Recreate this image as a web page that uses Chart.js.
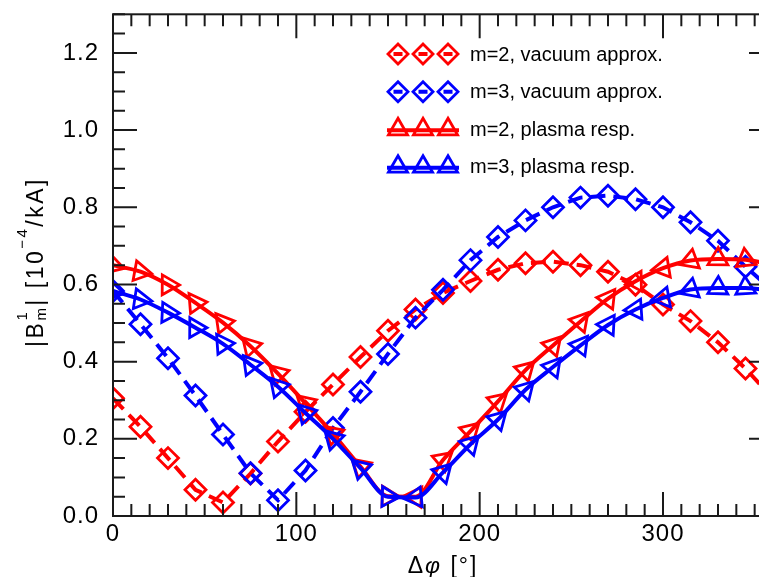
<!DOCTYPE html>
<html>
<head>
<meta charset="utf-8">
<script src="https://cdn.jsdelivr.net/npm/chart.js@4.4.1/dist/chart.umd.min.js"></script>
<style>
  html, body { margin: 0; padding: 0; background: #fff; overflow: hidden; }
  #wrap { width: 790px; height: 577px; }
</style>
</head>
<body>
<div id="wrap"><canvas id="bmChart" width="790" height="577"></canvas></div>
<script>
// 相位差 Δφ (度)
const dphi = [0, 15, 30, 45, 60, 75, 90, 105, 120, 135, 150, 165, 180,
              195, 210, 225, 240, 255, 270, 285, 300, 315, 330, 345, 360];

// |B_m^1| [10^-4/kA]
const m2Vacuum = [0.305, 0.231, 0.150, 0.068, 0.035, 0.110, 0.193, 0.270, 0.341, 0.412, 0.480, 0.535, 0.578,
                  0.609, 0.638, 0.655, 0.659, 0.650, 0.633, 0.599, 0.548, 0.505, 0.450, 0.382, 0.305];
const m3Vacuum = [0.583, 0.497, 0.409, 0.312, 0.211, 0.111, 0.041, 0.118, 0.228, 0.322, 0.420, 0.514, 0.586,
                  0.663, 0.723, 0.766, 0.800, 0.825, 0.830, 0.821, 0.800, 0.761, 0.713, 0.646, 0.583];
const m2Plasma = [0.650, 0.633, 0.599, 0.552, 0.501, 0.440, 0.369, 0.292, 0.213, 0.128, 0.051, 0.050, 0.145,
                  0.220, 0.297, 0.378, 0.442, 0.504, 0.563, 0.608, 0.642, 0.662, 0.666, 0.664, 0.650];
const m3Plasma = [0.583, 0.561, 0.527, 0.488, 0.446, 0.392, 0.335, 0.267, 0.200, 0.124, 0.050, 0.048, 0.113,
                  0.186, 0.250, 0.327, 0.386, 0.442, 0.495, 0.535, 0.565, 0.587, 0.591, 0.591, 0.583];

const seriesLabels = ['m=2, vacuum approx.', 'm=3, vacuum approx.', 'm=2, plasma resp.', 'm=3, plasma resp.'];

// 刻度
const xMajorTicks = [0, 100, 200, 300];
const yMajorTicks = [0.0, 0.2, 0.4, 0.6, 0.8, 1.0, 1.2];

const RED = '#ff0000';
const BLUE = '#0000ff';
const FONT = "'Liberation Sans', Arial, sans-serif";

function toPoints(ys) {
    return dphi.map((x, i) => ({ x: x, y: ys[i] }));
}

// 三角形依曲線斜率旋轉
function slopeRotation(ctx) {
    const data = ctx.chart.data.datasets[ctx.datasetIndex].data;
    const i = ctx.dataIndex;
    const a = data[Math.max(i - 1, 0)];
    const b = data[Math.min(i + 1, data.length - 1)];
    const xs = ctx.chart.scales.x, ys = ctx.chart.scales.y;
    if (!xs || !ys || !a || !b) return 0;
    const dx = xs.getPixelForValue(b.x) - xs.getPixelForValue(a.x);
    const dy = ys.getPixelForValue(a.y) - ys.getPixelForValue(b.y);
    return Math.atan2(dy, dx) * 180 / Math.PI;
}

function vacuumSet(label, values, color, order) {
    return {
        label: label,
        data: toPoints(values),
        borderColor: color,
        borderWidth: 4,
        borderDash: [15, 8],
        tension: 0,
        pointStyle: 'rectRot',
        pointRadius: 10.5,
        pointBorderWidth: 2.8,
        pointBorderColor: color,
        pointBackgroundColor: 'rgba(0,0,0,0)',
        order: order
    };
}

function plasmaSet(label, values, color, order) {
    return {
        label: label,
        data: toPoints(values),
        borderColor: color,
        borderWidth: 4,
        cubicInterpolationMode: 'monotone',
        pointStyle: 'triangle',
        pointRadius: 11.5,
        pointBorderWidth: 2.8,
        pointBorderColor: color,
        pointBackgroundColor: 'rgba(0,0,0,0)',
        pointRotation: slopeRotation,
        order: order
    };
}

// 外框與內向刻度
const framePlugin = {
    id: 'frame',
    beforeDraw(chart) {
        chart.ctx.letterSpacing = '1px';
    },
    afterDatasetsDraw(chart) {
        const { ctx, chartArea: a, scales: { x, y } } = chart;
        ctx.save();
        ctx.strokeStyle = '#1a1a1a';
        ctx.lineWidth = 2;
        ctx.beginPath();
        for (let k = 0; k <= 36; k++) {
            const px = x.getPixelForValue(k * 10);
            const len = k % 10 === 0 ? 24 : 12;
            ctx.moveTo(px, a.bottom); ctx.lineTo(px, a.bottom - len);
            ctx.moveTo(px, a.top); ctx.lineTo(px, a.top + len);
        }
        for (let k = 0; k <= 26; k++) {
            const py = y.getPixelForValue(k * 0.05);
            const len = k % 4 === 0 ? 24 : 12;
            ctx.moveTo(a.left, py); ctx.lineTo(a.left + len, py);
            ctx.moveTo(a.right, py); ctx.lineTo(a.right - len, py);
        }
        ctx.stroke();
        ctx.strokeRect(a.left, a.top, a.right - a.left, a.bottom - a.top);
        ctx.restore();
    }
};

// 多段文字 (上下標)
function drawRich(ctx, parts, x, y) {
    let w = 0;
    parts.forEach(p => {
        ctx.font = (p.italic ? 'italic ' : '') + p.size + 'px ' + FONT;
        p.w = ctx.measureText(p.text).width;
        if (p.stack) {
            ctx.font = p.stack.size + 'px ' + FONT;
            p.w = Math.max(p.w, ctx.measureText(p.stack.text).width);
        }
        w += p.w;
    });
    let cx = x - w / 2;
    parts.forEach(p => {
        ctx.font = (p.italic ? 'italic ' : '') + p.size + 'px ' + FONT;
        ctx.fillText(p.text, cx, y + (p.dy || 0));
        if (p.stack) {
            ctx.font = p.stack.size + 'px ' + FONT;
            ctx.fillText(p.stack.text, cx, y + p.stack.dy);
        }
        cx += p.w;
    });
}

const titlePlugin = {
    id: 'titles',
    afterDraw(chart) {
        const { ctx, chartArea: a } = chart;
        ctx.save();
        ctx.fillStyle = '#000';
        ctx.textAlign = 'left';
        ctx.textBaseline = 'alphabetic';
        ctx.letterSpacing = '2px';
        // x 軸標題
        drawRich(ctx, [
            { text: 'Δ', size: 23 },
            { text: 'φ', size: 23, italic: true },
            { text: ' [°]', size: 23 }
        ], (a.left + a.right) / 2, 573);
        // y 軸標題
        ctx.translate(43, 262);
        ctx.rotate(-Math.PI / 2);
        ctx.letterSpacing = '2.5px';
        drawRich(ctx, [
            { text: '|B', size: 23 },
            { text: '1', size: 15, dy: -16, stack: { text: 'm', size: 15, dy: 3 } },
            { text: '| [10', size: 23 },
            { text: '−4', size: 15, dy: -16 },
            { text: '/kA]', size: 23 }
        ], 0, 0);
        ctx.restore();
    }
};

// 圖例
const legendPlugin = {
    id: 'customLegend',
    afterDraw(chart) {
        const ctx = chart.ctx;
        const rowY = [54, 91.7, 129.3, 166.7];
        const symX = [398, 423, 448];
        ctx.save();
        chart.data.datasets.forEach((ds, i) => {
            const y = rowY[i];
            const color = ds.borderColor;
            const dashed = ds.pointStyle === 'rectRot';
            ctx.strokeStyle = color;
            ctx.lineWidth = 4;
            ctx.beginPath();
            if (dashed) {
                ctx.setLineDash([9, 16]);
                ctx.moveTo(393.5, y); ctx.lineTo(460, y);
            } else {
                ctx.setLineDash([]);
                ctx.moveTo(387, y + 1); ctx.lineTo(459, y + 1);
            }
            ctx.stroke();
            ctx.setLineDash([]);
            ctx.lineWidth = 2.8;
            symX.forEach(sx => {
                ctx.beginPath();
                if (dashed) {
                    const r = 10;
                    ctx.moveTo(sx, y - r); ctx.lineTo(sx + r, y);
                    ctx.lineTo(sx, y + r); ctx.lineTo(sx - r, y);
                } else {
                    const r = 11;
                    ctx.moveTo(sx, y - r);
                    ctx.lineTo(sx + r * Math.sin(2 * Math.PI / 3), y - r * Math.cos(2 * Math.PI / 3));
                    ctx.lineTo(sx + r * Math.sin(4 * Math.PI / 3), y - r * Math.cos(4 * Math.PI / 3));
                }
                ctx.closePath();
                ctx.stroke();
            });
            ctx.fillStyle = '#000';
            ctx.font = '20px ' + FONT;
            ctx.letterSpacing = '0px';
            ctx.textAlign = 'left';
            ctx.textBaseline = 'middle';
            ctx.fillText(ds.label, 470, y + 1);
        });
        ctx.restore();
    }
};

const chart = new Chart(document.getElementById('bmChart'), {
    type: 'line',
    data: {
        datasets: [
            vacuumSet(seriesLabels[0], m2Vacuum, RED, 3),
            vacuumSet(seriesLabels[1], m3Vacuum, BLUE, 2),
            plasmaSet(seriesLabels[2], m2Plasma, RED, 1),
            plasmaSet(seriesLabels[3], m3Plasma, BLUE, 0)
        ]
    },
    options: {
        responsive: false,
        animation: false,
        devicePixelRatio: 1,
        layout: { padding: { left: 0, top: 7, right: 17, bottom: 0 } },
        plugins: {
            legend: { display: false },
            tooltip: { enabled: false }
        },
        scales: {
            x: {
                type: 'linear',
                min: 0,
                max: 360,
                grid: { display: false, drawTicks: false },
                border: { display: false },
                afterBuildTicks: s => { s.ticks = xMajorTicks.map(v => ({ value: v })); },
                afterFit: s => { s.height = 61; s.paddingLeft = 0; s.paddingRight = 0; },
                ticks: {
                    color: '#000',
                    padding: 4,
                    maxRotation: 0,
                    font: { family: FONT, size: 24 },
                    callback: v => String(v)
                }
            },
            y: {
                type: 'linear',
                min: 0,
                max: 1.3,
                grid: { display: false, drawTicks: false },
                border: { display: false },
                afterBuildTicks: s => { s.ticks = yMajorTicks.map(v => ({ value: v })); },
                afterFit: s => { s.width = 113; s.paddingTop = 0; s.paddingBottom = 0; },
                ticks: {
                    color: '#000',
                    padding: 14,
                    font: { family: FONT, size: 24 },
                    callback: v => Number(v).toFixed(1)
                }
            }
        }
    },
    plugins: [framePlugin, titlePlugin, legendPlugin]
});
</script>
</body>
</html>
